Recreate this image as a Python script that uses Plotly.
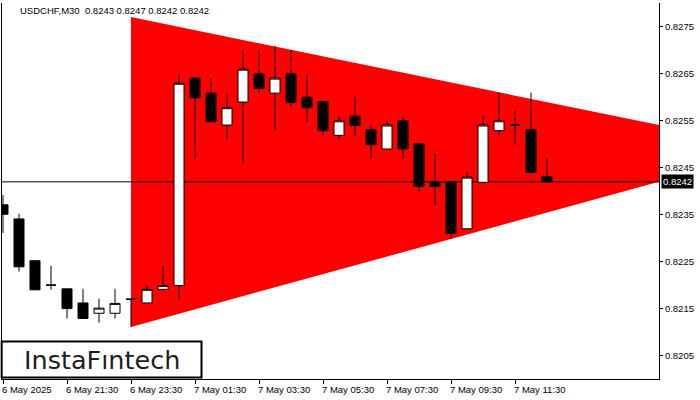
import pandas as pd
import plotly.graph_objects as go

# ---- data ----
times = [
    "2025-05-06 19:30", "2025-05-06 20:00", "2025-05-06 20:30", "2025-05-06 21:00",
    "2025-05-06 21:30", "2025-05-06 22:00", "2025-05-06 22:30", "2025-05-06 23:00",
    "2025-05-06 23:30", "2025-05-07 00:00", "2025-05-07 00:30", "2025-05-07 01:00",
    "2025-05-07 01:30", "2025-05-07 02:00", "2025-05-07 02:30", "2025-05-07 03:00",
    "2025-05-07 03:30", "2025-05-07 04:00", "2025-05-07 04:30", "2025-05-07 05:00",
    "2025-05-07 05:30", "2025-05-07 06:00", "2025-05-07 06:30", "2025-05-07 07:00",
    "2025-05-07 07:30", "2025-05-07 08:00", "2025-05-07 08:30", "2025-05-07 09:00",
    "2025-05-07 09:30", "2025-05-07 10:00", "2025-05-07 10:30", "2025-05-07 11:00",
    "2025-05-07 11:30", "2025-05-07 12:00", "2025-05-07 12:30",
]
opens = [0.82371, 0.82341, 0.82252, 0.82200, 0.82192, 0.82162, 0.82140, 0.82140,
         0.82170, 0.82162, 0.82191, 0.82199, 0.82641, 0.82609, 0.82541, 0.82590,
         0.82650, 0.82609, 0.82650, 0.82600, 0.82591, 0.82519, 0.82560, 0.82531,
         0.82490, 0.82550, 0.82501, 0.82420, 0.82420, 0.82320, 0.82419, 0.82529,
         0.82541, 0.82531, 0.82431]
highs = [0.82392, 0.82352, 0.82252, 0.82241, 0.82192, 0.82192, 0.82171, 0.82192,
         0.82170, 0.82199, 0.82241, 0.82650, 0.82641, 0.82641, 0.82609, 0.82701,
         0.82701, 0.82710, 0.82701, 0.82650, 0.82591, 0.82560, 0.82601, 0.82541,
         0.82550, 0.82560, 0.82501, 0.82481, 0.82420, 0.82441, 0.82560, 0.82610,
         0.82571, 0.82610, 0.82471]
lows = [0.82311, 0.82229, 0.82190, 0.82190, 0.82129, 0.82129, 0.82120, 0.82129,
        0.82111, 0.82162, 0.82191, 0.82170, 0.82470, 0.82548, 0.82511, 0.82459,
        0.82609, 0.82529, 0.82578, 0.82548, 0.82518, 0.82509, 0.82518, 0.82469,
        0.82490, 0.82469, 0.82399, 0.82370, 0.82299, 0.82320, 0.82419, 0.82518,
        0.82499, 0.82440, 0.82420]
closes = [0.82351, 0.82239, 0.82190, 0.82200, 0.82150, 0.82129, 0.82151, 0.82161,
          0.82170, 0.82191, 0.82199, 0.82630, 0.82599, 0.82548, 0.82578, 0.82660,
          0.82619, 0.82641, 0.82589, 0.82578, 0.82529, 0.82550, 0.82540, 0.82499,
          0.82541, 0.82490, 0.82410, 0.82410, 0.82310, 0.82430, 0.82541, 0.82550,
          0.82541, 0.82440, 0.82420]

# triangle pattern (clipped at the right edge of the chart)
tri_times = ["2025-05-06 23:30", "2025-05-07 16:00", "2025-05-07 16:00", "2025-05-06 23:30"]
tri_prices = [0.82771, 0.82541, 0.82420, 0.82111]

last_price = 0.8242
header = "USDCHF,M30 \u00a00.8243 0.8247 0.8242 0.8242"
logo = "InstaF\u0131ntech"

x_range_times = ["2025-05-06 19:28:07.5", "2025-05-07 16:00"]
y_range = [0.82000, 0.82801]
y_ticks = [0.8205, 0.8215, 0.8225, 0.8235, 0.8245, 0.8255, 0.8265, 0.8275]
x_tick_times = ["2025-05-06 19:30", "2025-05-06 21:30", "2025-05-06 23:30", "2025-05-07 01:30",
                "2025-05-07 03:30", "2025-05-07 05:30", "2025-05-07 07:30", "2025-05-07 09:30",
                "2025-05-07 11:30"]
x_tick_labels = ["6 May 2025", "6 May 21:30", "6 May 23:30", "7 May 01:30", "7 May 03:30",
                 "7 May 05:30", "7 May 07:30", "7 May 09:30", "7 May 11:30"]

# bar index positions (continuous 30-minute bars)
T0 = pd.Timestamp(times[0])
BAR = pd.Timedelta("30min")


def bar_pos(ts):
    return [(pd.Timestamp(t) - T0) / BAR for t in ts]


x = bar_pos(times)
tri_x = bar_pos(tri_times)
x_range = bar_pos(x_range_times)
x_ticks = bar_pos(x_tick_times)

FONT = "Liberation Sans"
fig = go.Figure()

fig.add_trace(go.Candlestick(
    x=x, open=opens, high=highs, low=lows, close=closes,
    increasing=dict(fillcolor="white", line=dict(color="black", width=1)),
    decreasing=dict(fillcolor="black", line=dict(color="black", width=1)),
    whiskerwidth=0, showlegend=False,
))

tri_path = "M " + " L ".join(f"{a},{b}" for a, b in zip(tri_x, tri_prices)) + " Z"

annotations = []
for t, lab in zip(x_ticks, x_tick_labels):
    annotations.append(dict(
        x=t, y=0, xref="x", yref="paper", text=lab, showarrow=False,
        xanchor="left", yanchor="top", xshift=-3, yshift=-3,
        font=dict(family=FONT, size=9.5, color="black"),
    ))
annotations.append(dict(
    x=1, y=last_price, xref="paper", yref="y", text=f"{last_price:.4f}",
    showarrow=False, xanchor="left", yanchor="middle", xshift=2,
    bgcolor="black", borderpad=1, font=dict(family=FONT, size=9.5, color="white"),
))
annotations.append(dict(
    x=16 / 657, y=1, xref="paper", yref="paper", text=header, showarrow=False,
    xanchor="left", yanchor="top", yshift=0,
    font=dict(family=FONT, size=9.5, color="black"),
))
annotations.append(dict(
    x=100 / 657, y=(379 - 359.5) / 376, xref="paper", yref="paper", text=logo,
    showarrow=False, xanchor="center", yanchor="middle",
    font=dict(family="DejaVu Sans", size=25.5, color="#1e1e1e"),
))

shapes = [
    dict(type="path", xref="x", yref="y", path=tri_path, fillcolor="#ff0000",
         line=dict(width=0), layer="below"),
    dict(type="line", xref="x", yref="y", x0=x_range[0], x1=x_range[1],
         y0=last_price, y1=last_price,
         line=dict(color="black", width=1), layer="below"),
    dict(type="rect", xref="paper", yref="paper",
         x0=-0.0005, x1=199.5 / 657, y0=(379 - 377.5) / 376, y1=(379 - 341.5) / 376,
         line=dict(color="black", width=2), fillcolor="white", layer="above"),
]

fig.update_layout(
    width=700, height=400,
    margin=dict(l=2, r=41, t=3, b=21),
    paper_bgcolor="white", plot_bgcolor="white",
    showlegend=False,
    boxgap=0.375, boxgroupgap=0,
    annotations=annotations,
    shapes=shapes,
    xaxis=dict(
        range=x_range, rangeslider=dict(visible=False),
        showgrid=False, zeroline=False, showline=True, linecolor="black", linewidth=1,
        ticks="outside", ticklen=4, tickcolor="black", tickwidth=1,
        tickmode="array", tickvals=x_ticks, showticklabels=False,
    ),
    yaxis=dict(
        side="right", range=y_range, showgrid=False, zeroline=False,
        showline=True, linecolor="black", linewidth=1, mirror=True,
        ticks="outside", ticklen=3, tickcolor="black", tickwidth=1,
        tickmode="array", tickvals=y_ticks, tickformat=".4f",
        tickfont=dict(family=FONT, size=9.5, color="black"),
    ),
    hovermode=False,
)

fig.write_html("out.html", config={"displayModeBar": False},
               post_script="document.body.style.margin='0';")
